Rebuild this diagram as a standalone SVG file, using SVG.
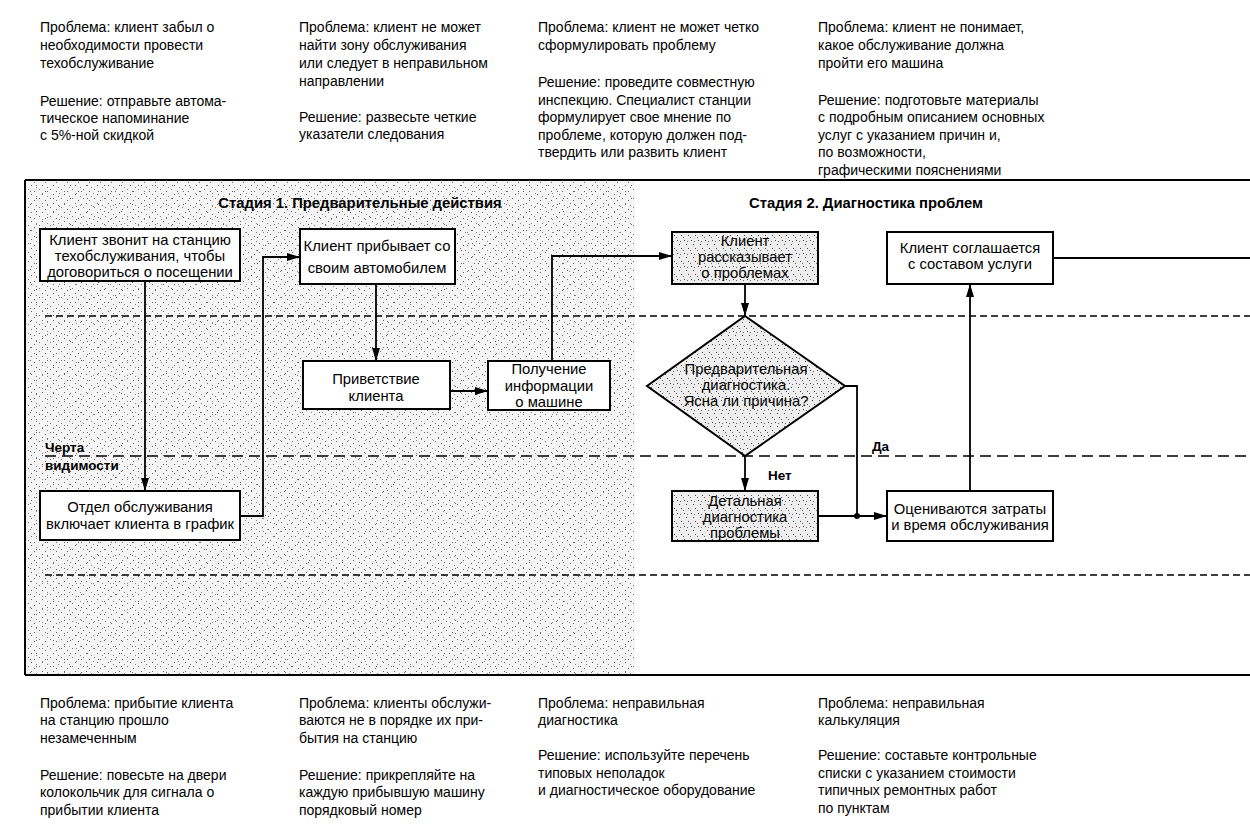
<svg xmlns="http://www.w3.org/2000/svg" width="1250" height="830" viewBox="0 0 1250 830">
<style>
.t{font-family:"Liberation Sans",Arial,sans-serif;font-size:14px;fill:#000}
.n{font-family:"Liberation Sans",Arial,sans-serif;font-size:14.8px;fill:#000;text-anchor:middle}
.h{font-family:"Liberation Sans",Arial,sans-serif;font-size:14.8px;font-weight:bold;fill:#000;text-anchor:middle}
.l{font-family:"Liberation Sans",Arial,sans-serif;font-size:13.5px;font-weight:bold;fill:#000}
.box{fill:#fff;stroke:#000;stroke-width:2}
.sbox{fill:url(#stip2);stroke:#000;stroke-width:2}
.frame{fill:none;stroke:#000;stroke-width:2}
.dash{fill:none;stroke:#000;stroke-width:1.6;stroke-dasharray:7 4}
.vis{fill:none;stroke:#000;stroke-width:1.6;stroke-dasharray:11 6}
.c{fill:none;stroke:#000;stroke-width:1.8}
.ca{fill:none;stroke:#000;stroke-width:1.8;marker-end:url(#arr)}
</style>
<defs>
<marker id="arr" markerUnits="userSpaceOnUse" markerWidth="14" markerHeight="10" refX="13" refY="4" orient="auto">
<path d="M0,0 L13,4 L0,8 z" fill="#000"/>
</marker>
<pattern id="stip" width="11" height="9" patternUnits="userSpaceOnUse">
<rect width="11" height="9" fill="#f5f5f5"/>
<rect x="1" y="2" width="1" height="1" fill="#666"/>
<rect x="6" y="0" width="1" height="1" fill="#777"/>
<rect x="9" y="5" width="1" height="1" fill="#666"/>
<rect x="3" y="7" width="1" height="1" fill="#888"/>
</pattern>
<pattern id="stip2" width="7" height="13" patternUnits="userSpaceOnUse">
<rect width="7" height="13" fill="#eeeeee"/>
<rect x="2" y="1" width="1" height="1" fill="#444"/>
<rect x="5" y="6" width="1" height="1" fill="#444"/>
<rect x="0" y="10" width="1" height="1" fill="#444"/>
<rect x="4" y="3" width="1" height="1" fill="#666"/>
<rect x="1" y="7" width="1" height="1" fill="#666"/>
</pattern>
<pattern id="stip3" width="17" height="13" patternUnits="userSpaceOnUse">
<rect x="2" y="3" width="1" height="1" fill="#666"/>
<rect x="13" y="9" width="1" height="1" fill="#666"/>
<rect x="8" y="11" width="1" height="1" fill="#888"/>
</pattern>
</defs>

<g id="background">
<rect x="25" y="180" width="610" height="495" fill="url(#stip)"/>
<rect x="25" y="180" width="610" height="495" fill="url(#stip3)"/>
</g>

<g id="frame">
<path class="frame" d="M25,180 H1250 M25,180 V675 M25,675 H1250"/>
<path class="dash" d="M45,316 H1250"/>
<path class="vis" d="M45,456 H1250"/>
<path class="dash" d="M45,575 H1250"/>
</g>

<g id="stage-labels">
<text class="h" x="360" y="208">Стадия 1. Предварительные действия</text>
<text class="h" x="866" y="208">Стадия 2. Диагностика проблем</text>
<text class="l" x="45" y="452">Черта</text>
<text class="l" x="45" y="470">видимости</text>
</g>

<g id="top-notes">
<text class="t" x="40" y="32">Проблема: клиент забыл о</text>
<text class="t" x="40" y="50">необходимости провести</text>
<text class="t" x="40" y="68">техобслуживание</text>
<text class="t" x="40" y="106">Решение: отправьте автома-</text>
<text class="t" x="40" y="123">тическое напоминание</text>
<text class="t" x="40" y="140">с 5%-ной скидкой</text>

<text class="t" x="299" y="32">Проблема: клиент не может</text>
<text class="t" x="299" y="50">найти зону обслуживания</text>
<text class="t" x="299" y="68">или следует в неправильном</text>
<text class="t" x="299" y="86">направлении</text>
<text class="t" x="299" y="122">Решение: развесьте четкие</text>
<text class="t" x="299" y="139">указатели следования</text>

<text class="t" x="538" y="32">Проблема: клиент не может четко</text>
<text class="t" x="538" y="50">сформулировать проблему</text>
<text class="t" x="538" y="87">Решение: проведите совместную</text>
<text class="t" x="538" y="105">инспекцию. Специалист станции</text>
<text class="t" x="538" y="122">формулирует свое мнение по</text>
<text class="t" x="538" y="140">проблеме, которую должен под-</text>
<text class="t" x="538" y="157">твердить или развить клиент</text>

<text class="t" x="818" y="32">Проблема: клиент не понимает,</text>
<text class="t" x="818" y="50">какое обслуживание должна</text>
<text class="t" x="818" y="68">пройти его машина</text>
<text class="t" x="818" y="105">Решение: подготовьте материалы</text>
<text class="t" x="818" y="122">с подробным описанием основных</text>
<text class="t" x="818" y="140">услуг с указанием причин и,</text>
<text class="t" x="818" y="157">по возможности,</text>
<text class="t" x="818" y="175">графическими пояснениями</text>
</g>

<g id="bottom-notes">
<text class="t" x="40" y="708">Проблема: прибытие клиента</text>
<text class="t" x="40" y="725">на станцию прошло</text>
<text class="t" x="40" y="743">незамеченным</text>
<text class="t" x="40" y="780">Решение: повесьте на двери</text>
<text class="t" x="40" y="797">колокольчик для сигнала о</text>
<text class="t" x="40" y="815">прибытии клиента</text>

<text class="t" x="299" y="708">Проблема: клиенты обслужи-</text>
<text class="t" x="299" y="725">ваются не в порядке их при-</text>
<text class="t" x="299" y="743">бытия на станцию</text>
<text class="t" x="299" y="780">Решение: прикрепляйте на</text>
<text class="t" x="299" y="797">каждую прибывшую машину</text>
<text class="t" x="299" y="815">порядковый номер</text>

<text class="t" x="538" y="708">Проблема: неправильная</text>
<text class="t" x="538" y="725">диагностика</text>
<text class="t" x="538" y="760">Решение: используйте перечень</text>
<text class="t" x="538" y="778">типовых неполадок</text>
<text class="t" x="538" y="795">и диагностическое оборудование</text>

<text class="t" x="818" y="708">Проблема: неправильная</text>
<text class="t" x="818" y="725">калькуляция</text>
<text class="t" x="818" y="760">Решение: составьте контрольные</text>
<text class="t" x="818" y="778">списки с указанием стоимости</text>
<text class="t" x="818" y="795">типичных ремонтных работ</text>
<text class="t" x="818" y="813">по пунктам</text>
</g>

<g id="connectors">
<path class="ca" d="M145,281 V491"/>
<path class="ca" d="M240,516 H263 V257 H300"/>
<path class="ca" d="M376,284 V361"/>
<path class="ca" d="M450,391 H488"/>
<path class="ca" d="M552,361 V256 H672"/>
<path class="ca" d="M745,284 V316"/>
<path class="ca" d="M745,456 V491"/>
<path class="c" d="M845,386 H857 V516"/>
<path class="ca" d="M818,516 H887"/>
<circle cx="857" cy="516" r="3" fill="#000"/>
<path class="ca" d="M970,491 V284"/>
<path class="c" d="M1053,258 H1250"/>
<text class="l" x="768" y="480">Нет</text>
<text class="l" x="872" y="451">Да</text>
</g>

<g id="n1">
<rect class="box" x="40" y="229" width="200" height="52"/>
<text class="n" x="140" y="245">Клиент звонит на станцию</text>
<text class="n" x="140" y="261">техобслуживания, чтобы</text>
<text class="n" x="140" y="277">договориться о посещении</text>
</g>
<g id="n2">
<rect class="box" x="300" y="229" width="155" height="55"/>
<text class="n" x="377" y="251">Клиент прибывает со</text>
<text class="n" x="377" y="273">своим автомобилем</text>
</g>
<g id="n3">
<rect class="box" x="303" y="361" width="147" height="48"/>
<text class="n" x="376" y="384">Приветствие</text>
<text class="n" x="376" y="401">клиента</text>
</g>
<g id="n4">
<rect class="box" x="488" y="361" width="122" height="49"/>
<text class="n" x="549" y="374">Получение</text>
<text class="n" x="549" y="391">информации</text>
<text class="n" x="549" y="407">о машине</text>
</g>
<g id="n5">
<rect class="box" x="40" y="491" width="200" height="49"/>
<text class="n" x="140" y="512">Отдел обслуживания</text>
<text class="n" x="140" y="529">включает клиента в график</text>
</g>
<g id="n6">
<rect class="sbox" x="672" y="232" width="146" height="52"/>
<text class="n" x="745" y="246">Клиент</text>
<text class="n" x="745" y="262">рассказывает</text>
<text class="n" x="745" y="278">о проблемах</text>
</g>
<g id="n7">
<polygon class="sbox" points="745,316 845,386 745,456 647,386"/>
<text class="n" x="746" y="374">Предварительная</text>
<text class="n" x="746" y="390">диагностика.</text>
<text class="n" x="746" y="406">Ясна ли причина?</text>
</g>
<g id="n8">
<rect class="sbox" x="672" y="491" width="146" height="50"/>
<text class="n" x="745" y="506">Детальная</text>
<text class="n" x="745" y="522">диагностика</text>
<text class="n" x="745" y="538">проблемы</text>
</g>
<g id="n9">
<rect class="box" x="887" y="491" width="166" height="50"/>
<text class="n" x="970" y="514">Оцениваются затраты</text>
<text class="n" x="970" y="530">и время обслуживания</text>
</g>
<g id="n10">
<rect class="box" x="887" y="232" width="166" height="52"/>
<text class="n" x="970" y="253">Клиент соглашается</text>
<text class="n" x="970" y="269">с составом услуги</text>
</g>
</svg>
